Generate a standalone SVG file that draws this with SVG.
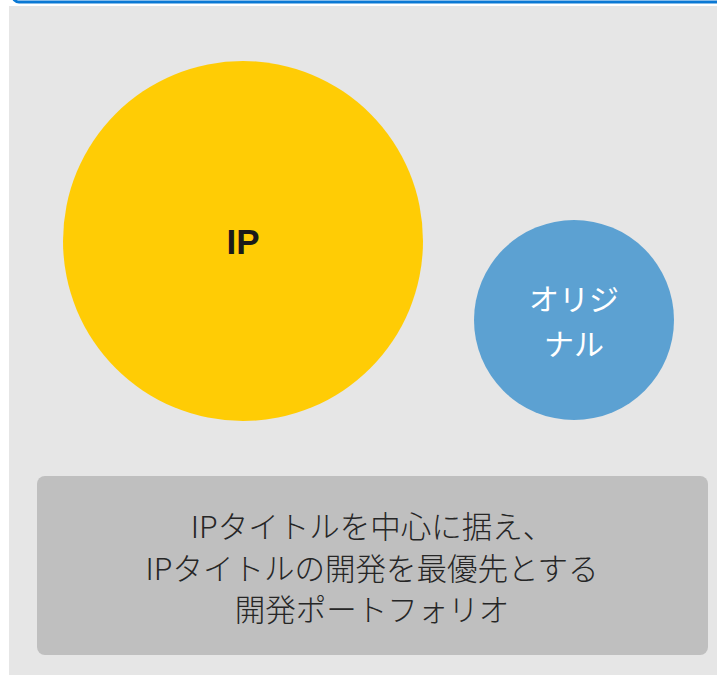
<svg xmlns="http://www.w3.org/2000/svg" width="717" height="675" viewBox="0 0 717 675">
<style>
.jp{font-family:"Noto Sans CJK JP","Noto Sans",sans-serif;}
.cap{font-size:30.5px;fill:#262626;text-anchor:middle;font-weight:300;}
.wht{font-size:30px;fill:#ffffff;text-anchor:middle;}
</style>
<rect x="0" y="0" width="717" height="675" fill="#ffffff"/>
<rect x="9" y="6" width="708" height="669" fill="#e6e6e6"/>
<rect x="13" y="-20" width="720" height="22" rx="6" fill="none" stroke="#0a78d4" stroke-width="3"/>
<g id="connectors"></g>
<g id="ip">
<circle cx="243" cy="241" r="180" fill="#ffcc05"/>
<text x="243" y="254" font-family="'Liberation Sans',Arial,sans-serif" font-size="35" font-weight="bold" fill="#1a1a1a" text-anchor="middle">IP</text>
</g>
<g id="original">
<circle cx="574" cy="320" r="100" fill="#5ca1d2"/>
<text x="574" y="310" class="jp wht">オリジ</text>
<text x="574" y="355" class="jp wht">ナル</text>
</g>
<g id="summary">
<rect x="37" y="476" width="671" height="179" rx="8" fill="#bfbfbf"/>
<text x="372" y="538" class="jp cap">IPタイトルを中心に据え、</text>
<text x="372" y="580" class="jp cap">IPタイトルの開発を最優先とする</text>
<text x="372" y="621" class="jp cap">開発ポートフォリオ</text>
</g>
</svg>
